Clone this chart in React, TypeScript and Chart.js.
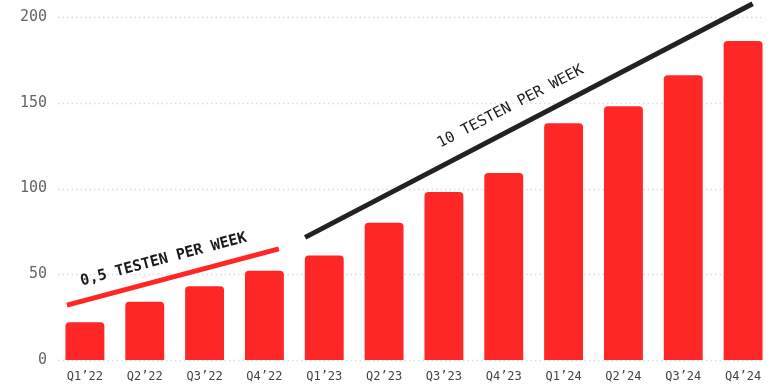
import React, { useEffect, useRef } from "react";
import { Chart, registerables } from "chart.js";

Chart.register(...registerables);

const categories = ["Q1’22", "Q2’22", "Q3’22", "Q4’22", "Q1’23", "Q2’23", "Q3’23", "Q4’23", "Q1’24", "Q2’24", "Q3’24", "Q4’24"];
const values = [22, 34, 43, 52, 61, 80, 98, 109, 138, 148, 166, 186];
const yTickValues = [0, 50, 100, 150, 200];

// trend annotations in data coordinates (category index, value)
const trendLabels = ["0,5 TESTEN PER WEEK", "10 TESTEN PER WEEK"];
const trendColors = ["#ff2626", "#222222"];
const trendStartIndex = [-0.3, 3.68];
const trendStartValue = [32, 71.5];
const trendEndIndex = [3.24, 11.16];
const trendEndValue = [64.8, 207.7];
const labelIndex = [-0.055, 5.94];
const labelValue = [43.5, 123.7];
const labelWeights = ["bold", "normal"];

const FONT = "'DejaVu Sans Mono', monospace";

const gridPlugin = {
  id: "dotGrid",
  beforeDatasetsDraw(chart: any) {
    const { ctx } = chart;
    const y = chart.scales.y;
    ctx.save();
    ctx.strokeStyle = "#dcdcdc";
    ctx.lineWidth = 1.5;
    ctx.setLineDash([1.5, 3]);
    for (const v of yTickValues) {
      const py = Math.round(y.getPixelForValue(v)) + 0.5;
      ctx.beginPath();
      ctx.moveTo(58, py);
      ctx.lineTo(762, py);
      ctx.stroke();
    }
    ctx.restore();
  },
};

const trendPlugin = {
  id: "trends",
  afterDatasetsDraw(chart: any) {
    const { ctx } = chart;
    const xs = chart.scales.x;
    const ys = chart.scales.y;
    ctx.save();
    for (let i = 0; i < trendLabels.length; i++) {
      const x1 = xs.getPixelForValue(trendStartIndex[i]);
      const y1 = ys.getPixelForValue(trendStartValue[i]);
      const x2 = xs.getPixelForValue(trendEndIndex[i]);
      const y2 = ys.getPixelForValue(trendEndValue[i]);
      ctx.strokeStyle = trendColors[i];
      ctx.lineWidth = 5;
      ctx.lineCap = "butt";
      ctx.beginPath();
      ctx.moveTo(x1, y1);
      ctx.lineTo(x2, y2);
      ctx.stroke();
      const ang = Math.atan2(y2 - y1, x2 - x1);
      const lx = xs.getPixelForValue(labelIndex[i]);
      const ly = ys.getPixelForValue(labelValue[i]);
      ctx.save();
      ctx.translate(lx, ly);
      ctx.rotate(ang);
      ctx.fillStyle = "#1a1a1a";
      ctx.font = `${labelWeights[i]} 15px ${FONT}`;
      ctx.textAlign = "left";
      ctx.textBaseline = "alphabetic";
      ctx.fillText(trendLabels[i], 0, 0);
      ctx.restore();
    }
    ctx.restore();
  },
};

export default function App() {
  const ref = useRef<HTMLCanvasElement>(null);
  useEffect(() => {
    if (!ref.current) return;
    const chart = new Chart(ref.current, {
      type: "bar",
      data: {
        labels: categories,
        datasets: [
          {
            data: values,
            backgroundColor: "#ff2626",
            borderRadius: 4,
            borderSkipped: "bottom",
            barPercentage: 0.65,
            categoryPercentage: 1,
          },
        ],
      },
      options: {
        responsive: false,
        animation: false,
        layout: { padding: { top: 15, right: 4, left: 0, bottom: 0 } },
        plugins: { legend: { display: false }, tooltip: { enabled: false } },
        scales: {
          x: {
            offset: true,
            grid: { display: false, drawTicks: false },
            border: { display: false },
            ticks: {
              color: "#444",
              font: { family: FONT, size: 12 },
              padding: 10,
              maxRotation: 0,
              autoSkip: false,
            },
            afterFit: (s: any) => {
              s.height = 28;
            },
          },
          y: {
            min: 0,
            max: 200,
            grid: { display: false, drawTicks: false },
            border: { display: false },
            ticks: {
              stepSize: 50,
              color: "#666",
              font: { family: FONT, size: 15 },
              padding: 8,
            },
            afterFit: (s: any) => {
              s.width = 55;
            },
          },
        },
      },
      plugins: [gridPlugin, trendPlugin],
    });
    return () => chart.destroy();
  }, []);
  return (
    <div style={{ position: "absolute", left: 0, top: 0, width: 777, height: 388, background: "#fff" }}>
      <canvas ref={ref} width={777} height={388} style={{ display: "block" }} />
    </div>
  );
}
